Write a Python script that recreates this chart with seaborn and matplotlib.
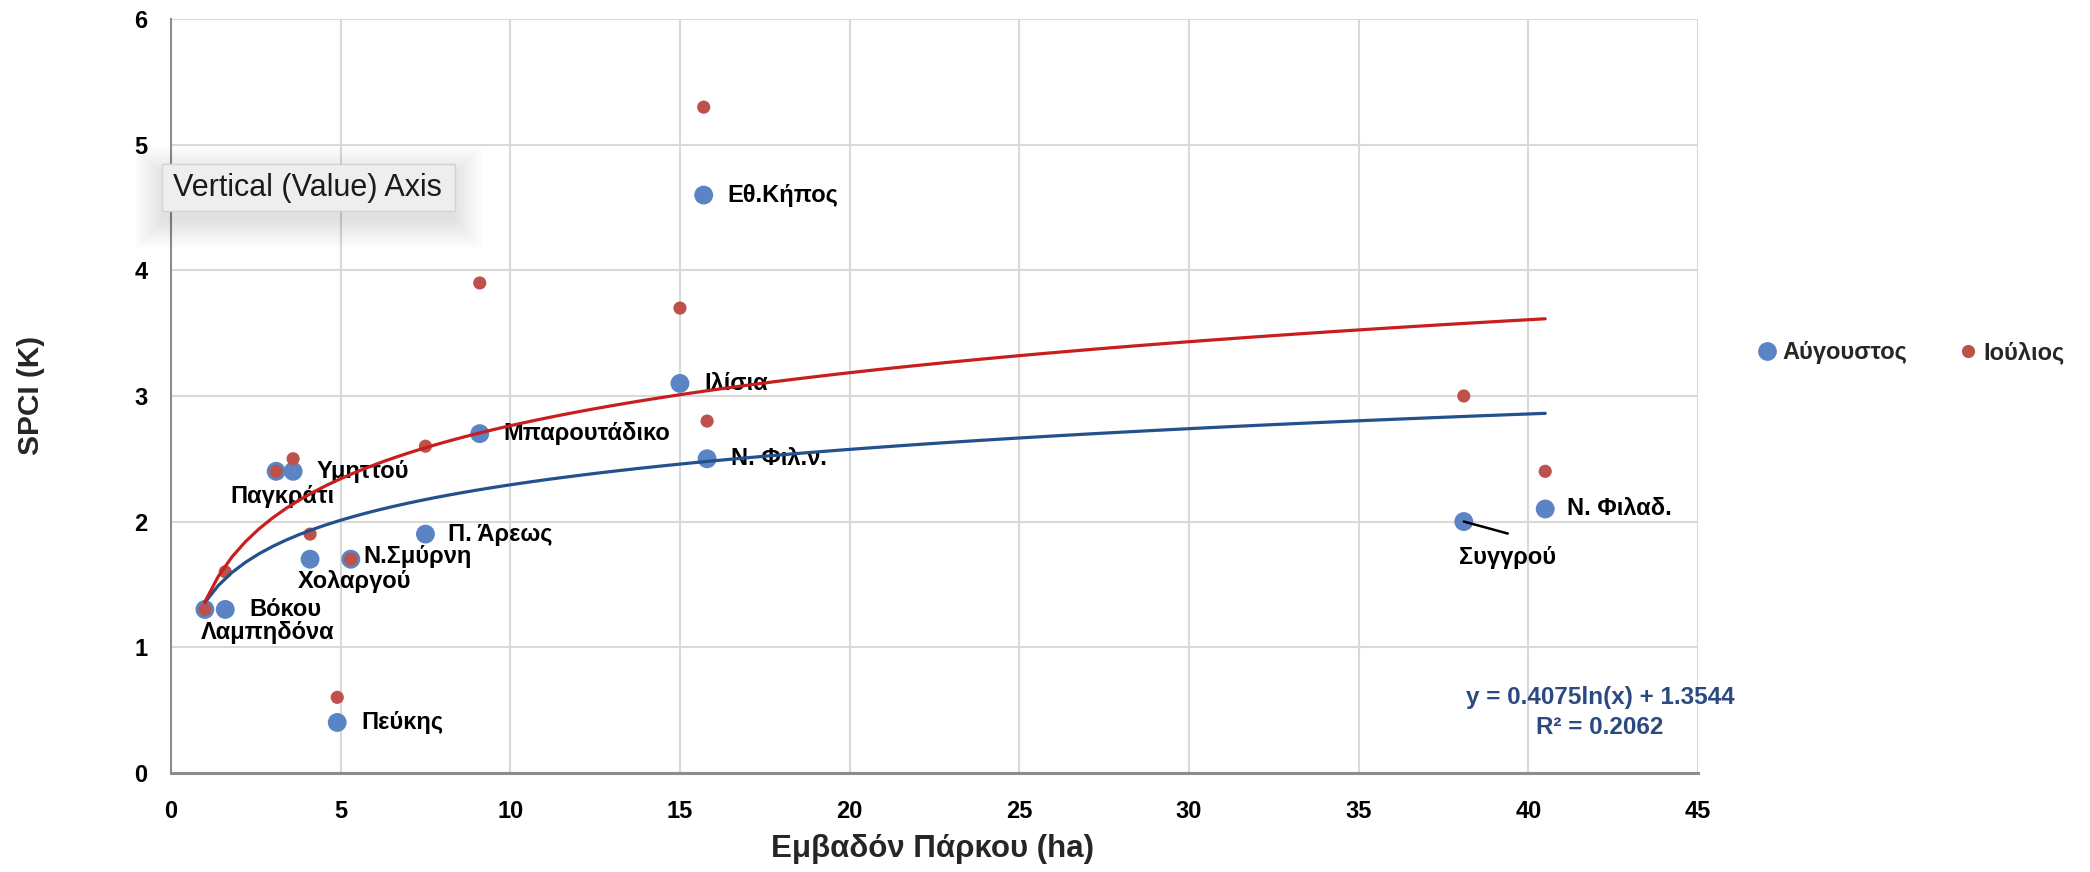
import numpy as np
import pandas as pd
import matplotlib
matplotlib.use("Agg")
import matplotlib.pyplot as plt
from matplotlib.patches import Rectangle
from matplotlib.lines import Line2D
import seaborn as sns

# ------------------------------
# Data
# ------------------------------
parks = ["Λαμπηδόνα", "Βόκου", "Παγκράτι", "Υμηττού", "Χολαργού", "Πεύκης", "Ν.Σμύρνη",
         "Π. Άρεως", "Μπαρουτάδικο", "Ιλίσια", "Εθ.Κήπος", "Ν. Φιλ.ν.", "Συγγρού", "Ν. Φιλαδ."]
area_ha = [1.0, 1.6, 3.1, 3.6, 4.1, 4.9, 5.3, 7.5, 9.1, 15.0, 15.7, 15.8, 38.1, 40.5]
spci_aug = [1.3, 1.3, 2.4, 2.4, 1.7, 0.4, 1.7, 1.9, 2.7, 3.1, 4.6, 2.5, 2.0, 2.1]
spci_jul = [1.3, 1.6, 2.4, 2.5, 1.9, 0.6, 1.7, 2.6, 3.9, 3.7, 5.3, 2.8, 3.0, 2.4]

series_names = ["Αύγουστος", "Ιούλιος"]
equation_text = "y = 0.4075ln(x) + 1.3544\nR² = 0.2062"

x_ticks = [0, 5, 10, 15, 20, 25, 30, 35, 40, 45]
y_ticks = [0, 1, 2, 3, 4, 5, 6]

# label placement (pixel offsets from the point, alignment)
label_pos = {
    "Λαμπηδόνα": (-4, -23, "left"),
    "Βόκου": (24, 0, "left"),
    "Παγκράτι": (6, -25, "center"),
    "Υμηττού": (23, 0, "left"),
    "Χολαργού": (-12, -22, "left"),
    "Πεύκης": (24, 0, "left"),
    "Ν.Σμύρνη": (13, 3, "left"),
    "Π. Άρεως": (23, 0, "left"),
    "Μπαρουτάδικο": (24, 0, "left"),
    "Ιλίσια": (24, 0, "left"),
    "Εθ.Κήπος": (24, 0, "left"),
    "Ν. Φιλ.ν.": (24, 0, "left"),
    "Συγγρού": (44, -36, "center"),
    "Ν. Φιλαδ.": (22, 0, "left"),
}

df = pd.DataFrame({"park": parks, "area": area_ha, "aug": spci_aug, "jul": spci_jul})

BLUE = "#5A84C4"
RED = "#BE514C"
BLUE_LINE = "#24508E"
RED_LINE = "#C81E1E"
GRID = "#D9D9D9"
AXIS = "#8C8C8C"

sns.set_style("white")
plt.rcParams["font.family"] = ["Liberation Sans", "DejaVu Sans"]

fig = plt.figure(figsize=(20.9, 8.72), dpi=100)
ax = fig.add_axes([0.0818, 0.1139, 0.7306, 0.864])

# ------------------------------
# Points and log trendlines
# ------------------------------
sns.scatterplot(data=df, x="area", y="aug", color=BLUE, s=185, edgecolor="none",
                ax=ax, zorder=3, label=series_names[0])
sns.scatterplot(data=df, x="area", y="jul", color=RED, s=90, edgecolor="none",
                ax=ax, zorder=3.5, label=series_names[1])

sns.regplot(data=df, x="area", y="aug", logx=True, scatter=False, ci=None, truncate=True,
            ax=ax, line_kws=dict(color=BLUE_LINE, lw=2.3, zorder=5))
sns.regplot(data=df, x="area", y="jul", logx=True, scatter=False, ci=None, truncate=True,
            ax=ax, line_kws=dict(color=RED_LINE, lw=2.3, zorder=5))

# point labels
for name, x, y in zip(parks, area_ha, spci_aug):
    dx, dy, ha = label_pos[name]
    ax.annotate(name, xy=(x, y), xytext=(dx, dy), textcoords="offset pixels",
                ha=ha, va="center", fontsize=17, fontweight="bold", color="black", zorder=4)
    if name == "Συγγρού":
        ax.annotate("", xy=(x, y), xytext=(44, -12), textcoords="offset pixels",
                    arrowprops=dict(arrowstyle="-", color="black", lw=1.8,
                                    shrinkA=0, shrinkB=0), zorder=4)

# ------------------------------
# Axes styling
# ------------------------------
ax.set_xlim(0, 45)
ax.set_ylim(0, 6)
ax.set_xticks(x_ticks)
ax.set_yticks(y_ticks)
ax.grid(True, color=GRID, lw=1.5, zorder=0)
ax.set_axisbelow(True)
for side in ["top", "right"]:
    ax.spines[side].set_visible(False)
ax.spines["left"].set_color(AXIS)
ax.spines["left"].set_linewidth(1.5)
ax.spines["bottom"].set_color(AXIS)
ax.spines["bottom"].set_linewidth(2.2)
ax.tick_params(axis="both", direction="out", length=6, width=1.5, color=AXIS,
               labelsize=17, labelcolor="black")
ax.tick_params(axis="y", pad=11)
ax.tick_params(axis="x", pad=14)
for lab in ax.get_xticklabels() + ax.get_yticklabels():
    lab.set_fontweight("bold")

ax.set_xlabel("")
ax.set_ylabel("")
fig.text(0.4464, 0.026, "Εμβαδόν Πάρκου (ha)", ha="center", va="center",
         fontsize=22.5, fontweight="bold")
fig.text(0.015, 0.546, "SPCI (K)", ha="center", va="center", rotation=90,
         fontsize=21.5, fontweight="bold")

# trendline equation
fig.text(0.7656, 0.183, equation_text, ha="center", va="center", fontsize=17.5,
         fontweight="bold", color="#2C4A80", linespacing=1.4)

# legend
if ax.get_legend() is not None:
    ax.get_legend().remove()
handles = [Line2D([], [], ls="none", marker="o", ms=13.5, color=BLUE, mec="none"),
           Line2D([], [], ls="none", marker="o", ms=9.5, color=RED, mec="none")]
fig.legend(handles, series_names, loc="center left", bbox_to_anchor=(0.8364, 0.596),
           frameon=False, ncol=2, handlelength=0.8, handletextpad=0.25,
           columnspacing=2.2, borderaxespad=0, prop=dict(size=17, weight="bold"))

# tooltip box from the screenshot (soft shadow + box)
W, H = 2090.0, 872.0
bx0, by0, bx1, by1 = 162, 164, 455, 211
for i in range(10):
    grow = 3 * i
    fig.patches.append(Rectangle(((bx0 - grow) / W, 1 - (by1 + 10 + grow) / H),
                                 (bx1 - bx0 + 2 * grow) / W, (by1 - by0 + 2 * grow) / H,
                                 transform=fig.transFigure, fc="black", ec="none",
                                 alpha=0.012, zorder=6))
fig.patches.append(Rectangle((bx0 / W, 1 - by1 / H), (bx1 - bx0) / W, (by1 - by0) / H,
                             transform=fig.transFigure, fc="#EEEEEE", ec="#D2D2D2",
                             lw=1, zorder=7))
fig.text(173 / W, 1 - 188 / H, "Vertical (Value) Axis", ha="left", va="center",
         fontsize=22, color="#1A1A1A", zorder=8)

fig.savefig("out.png", dpi=100)
